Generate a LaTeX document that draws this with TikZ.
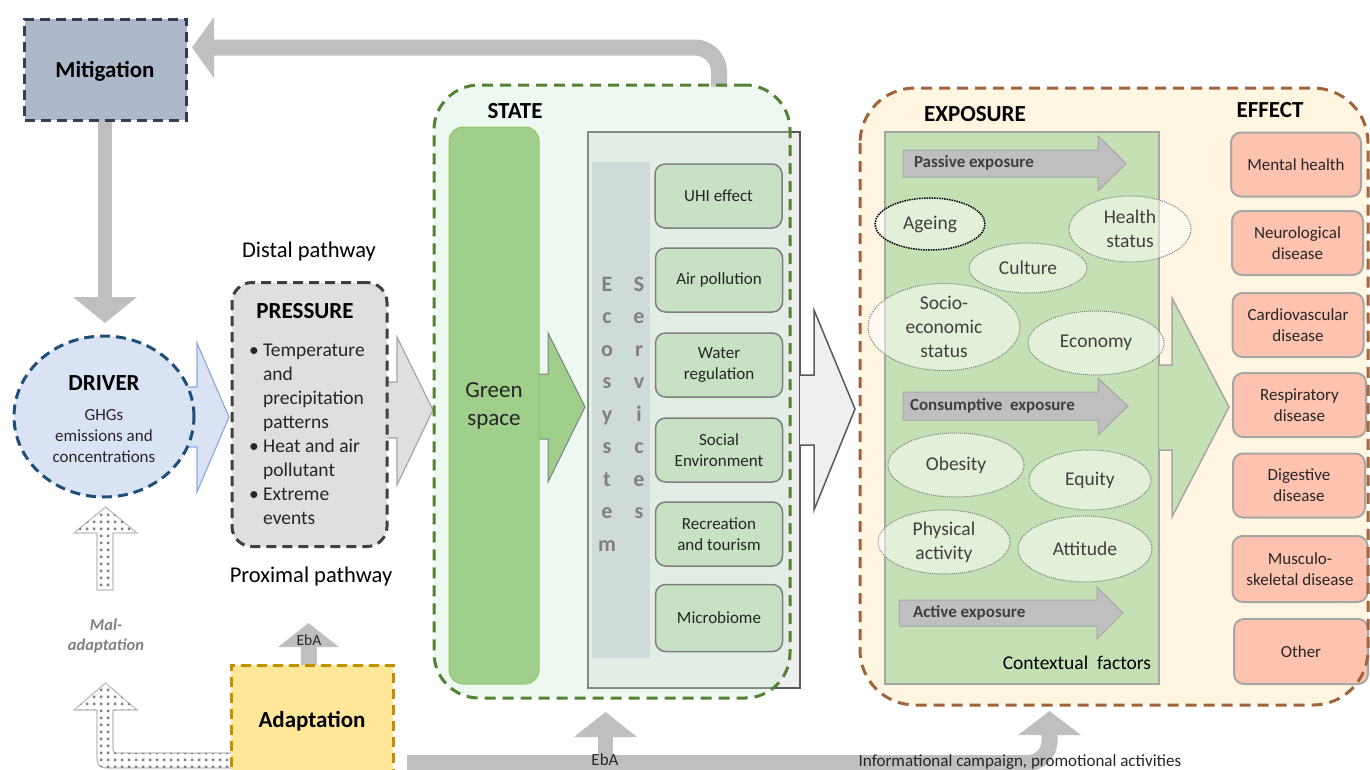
\documentclass[tikz,border=0pt]{standalone}
\usepackage{fontspec}
\setmainfont{Carlito}
\usetikzlibrary{shapes.geometric,patterns}
\pgfdeclarepatternformonly{bigdots}{\pgfpointorigin}{\pgfpoint{7pt}{7pt}}{\pgfpoint{7pt}{7pt}}%
  {\pgfpathrectangle{\pgfpoint{2pt}{2pt}}{\pgfpoint{3pt}{3pt}}\pgfusepath{fill}}
\definecolor{agray}{HTML}{BFBFBF}
\definecolor{mitfill}{HTML}{ADB9CA}
\definecolor{mitline}{HTML}{333F50}
\definecolor{drvfill}{HTML}{DAE3F3}
\definecolor{drvline}{HTML}{1F4E79}
\definecolor{drvarrow}{HTML}{8FAADC}
\definecolor{prsfill}{HTML}{DFDFDF}
\definecolor{prsline}{HTML}{404040}
\definecolor{adafill}{HTML}{FFE699}
\definecolor{adaline}{HTML}{BF9000}
\definecolor{stfill}{HTML}{CBEBD7}
\definecolor{stline}{HTML}{548235}
\definecolor{gsfill}{HTML}{9FCF8A}
\definecolor{gsline}{HTML}{92C46A}
\definecolor{ecofill}{HTML}{EFEFEF}
\definecolor{ecoline}{HTML}{595959}
\definecolor{ecostrip}{HTML}{CFDBD8}
\definecolor{svfill}{HTML}{C8E0C4}
\definecolor{svline}{HTML}{7F7F7F}
\definecolor{expfill}{HTML}{FFF5E0}
\definecolor{expline}{HTML}{A0643C}
\definecolor{ctxfill}{HTML}{C5E0B4}
\definecolor{ctxline}{HTML}{A6A6A6}
\definecolor{effill}{HTML}{FDC3AE}
\definecolor{txtdark}{HTML}{262626}
\definecolor{txtgray}{HTML}{404040}
\newcommand\fsz[2]{\fontsize{#1}{#2}\selectfont}
\tikzset{
  title/.style={font=\fsz{23}{27}\bfseries},
  svbox/.style={draw=svline, line width=1.5pt, fill=svfill, rounded corners=10pt,
    minimum width=127pt, minimum height=64pt, font=\fsz{17}{21}, text=txtdark},
  efbox/.style={draw=ctxline, line width=2pt, fill=effill, rounded corners=10pt,
    minimum width=131pt, minimum height=64pt, font=\fsz{17}{21}, text=txtdark},
  ctxell/.style={ellipse, draw=svline, densely dotted, line width=1pt, fill=white, fill opacity=0.5,
    text opacity=1, font=\fsz{19.5}{24}, text=txtgray},
  exparrow/.style={fill=agray, draw=ctxline, line width=1pt},
  explabel/.style={anchor=west, font=\fsz{17}{18}\bfseries, text=txtgray},
  dotarrow/.style={fill=white, draw=agray, line width=1.2pt},
  dotfill/.style={pattern=bigdots, pattern color=gray},
}
\begin{document}
\begin{tikzpicture}[x=1pt,y=-1pt, every node/.style={inner sep=0pt, outer sep=0pt, align=center}]
\useasboundingbox (0,0) rectangle (1370,769);

% ---- top feedback arrow (state -> mitigation)
\draw[agray, line width=16pt, rounded corners=24pt] (719,87) |- (212,47.5);
\fill[agray] (214,17) -- (192,47.5) -- (214,78) -- cycle;

% ---- mitigation -> driver
\draw[agray, line width=14pt] (105,118) -- (105,298);
\fill[agray] (73,297) -- (137,297) -- (105,323) -- cycle;

% ---- mitigation
\node[draw=mitline, fill=mitfill, line width=3pt, dash pattern=on 10pt off 6pt,
  minimum width=162pt, minimum height=101pt] (mit) at (105.5,69.5) {};
\node[font=\fsz{23}{27}\bfseries] (mitt) at (105,71.5) {Mitigation};

% ---- driver -> pressure arrow
\fill[drvfill] (180,387) -- (197,387) -- (197,343) -- (229,417) -- (197,492) -- (197,447) -- (180,447) -- cycle;
\draw[drvarrow, line width=1.2pt] (180,387) -- (197,387) -- (197,343) -- (229,417) -- (197,492) -- (197,447) -- (180,447);

% ---- driver
\node[ellipse, draw=drvline, fill=drvfill, line width=3pt, dash pattern=on 10pt off 6pt,
  minimum width=180pt, minimum height=161pt] (drv) at (104,416.5) {};
\node[title] (drvt) at (104,383) {DRIVER};
\node[font=\fsz{17}{21}, text=txtdark] (drvb) at (104,436) {GHGs\\emissions and\\concentrations};

% ---- pressure -> state arrow
\fill[prsfill] (378,382) -- (397,382) -- (397,337) -- (433,410) -- (397,485) -- (397,438) -- (378,438) -- cycle;
\draw[ctxline, line width=1.2pt] (378,382) -- (397,382) -- (397,337) -- (433,410) -- (397,485) -- (397,438) -- (378,438);

% ---- pressure
\node[draw=prsline, fill=prsfill, line width=3pt, dash pattern=on 10pt off 6pt, rounded corners=20pt,
  minimum width=155pt, minimum height=264pt] (prs) at (309.5,414.5) {};
\node[title] (prst) at (305,311) {PRESSURE};
\node[anchor=north west, align=left, font=\fsz{19.5}{24}, text=txtdark] (prsb) at (249,344)
  {\textbullet\ Temperature\\\hphantom{\textbullet\ }and\\\hphantom{\textbullet\ }precipitation\\\hphantom{\textbullet\ }patterns\\
   \textbullet\ Heat and air\\\hphantom{\textbullet\ }pollutant\\\textbullet\ Extreme\\\hphantom{\textbullet\ }events};
\node[font=\fsz{22.5}{26}, text=black] (distal) at (309,251) {Distal pathway};
\node[font=\fsz{22.5}{26}, text=black] (proximal) at (311,576) {Proximal pathway};

% ---- maladaptation arrows
\def\upmal{(97,590) -- (97,533) -- (74,533) -- (105.5,507) -- (137,533) -- (113,533) -- (113,590) -- cycle}
\path[dotarrow] \upmal;
\path[dotfill] \upmal;
\def\lowmal{(233,768) -- (115,768) .. controls (97,768) .. (97,750) -- (97,710) -- (74,710) -- (105.5,683) -- (137,710) -- (113,710) -- (113,746) .. controls (113,753) .. (120,753) -- (233,753) -- cycle}
\path[dotarrow] \lowmal;
\path[dotfill] \lowmal;
\node[font=\fsz{16.5}{20}\bfseries\itshape, text=gray] (mal) at (106,636) {Mal-\\adaptation};

% ---- EbA arrow adaptation -> pressure
\draw[agray, line width=16pt] (308.5,667) -- (308.5,645);
\fill[agray] (278,647) -- (339,647) -- (308.5,623) -- cycle;
\node[font=\fsz{15.5}{16}, text=txtdark] (eba1) at (309,640) {EbA};

% ---- adaptation
\node[draw=adaline, fill=adafill, line width=3pt, dash pattern=on 10pt off 6pt,
  minimum width=162pt, minimum height=112pt, font=\fsz{23}{27}\bfseries] (ada) at (312,721) {Adaptation};

% ---- bottom bar and arrows up
\draw[agray, line width=16pt, rounded corners=22pt] (407,763) -| (1049.5,733);
\fill[agray] (1018,735) -- (1081,735) -- (1049.5,711) -- cycle;
\draw[agray, line width=15pt] (605.5,763) -- (605.5,735);
\fill[agray] (574,737) -- (637,737) -- (605.5,712) -- cycle;
\node[font=\fsz{17}{18}, text=txtdark] (eba2) at (605,760) {EbA};
\node[font=\fsz{17}{18}, text=txtdark] (info) at (1020,762) {Informational campaign, promotional activities};

% ---- STATE
\node[draw=ecoline, fill=ecofill, line width=2pt, minimum width=212pt, minimum height=556pt] (eco) at (694,410) {};
\node[draw=stline, fill=stfill, fill opacity=0.35, draw opacity=1, line width=3pt, dash pattern=on 11pt off 7pt,
  rounded corners=45pt, minimum width=356pt, minimum height=613pt] (state) at (612,391.5) {};
\fill[ecostrip] (592,162) rectangle (650,658);
\node[font=\fsz{22}{32.5}\bfseries, text=gray] (ecoE) at (607,414) {E\\c\\o\\s\\y\\s\\t\\e\\m};
\node[font=\fsz{22}{32.5}\bfseries, text=gray] (ecoS) at (639,398) {S\\e\\r\\v\\i\\c\\e\\s};
\node[title] (stt) at (515,111) {STATE};

% green arrow
\fill[gsfill] (530,374) -- (548,374) -- (548,333) -- (585,407) -- (548,482) -- (548,439) -- (530,439) -- cycle;
\draw[svline, line width=1pt] (530,374) -- (548,374) -- (548,333) -- (585,407) -- (548,482) -- (548,439) -- (530,439);
\node[draw=gsline, fill=gsfill, line width=1pt, rounded corners=14pt,
  minimum width=90pt, minimum height=557pt] (gs) at (494,405.5) {};
\node[font=\fsz{23}{28}, text=txtdark] (gst) at (494,406) {Green\\space};

\node[svbox] (s1) at (718.5,196) {UHI effect};
\node[svbox] (s2) at (719,280) {Air pollution};
\node[svbox] (s3) at (719,365) {Water\\regulation};
\node[svbox] (s4) at (719,450) {Social\\Environment};
\node[svbox] (s5) at (719,534) {Recreation\\and tourism};
\node[svbox, minimum height=67pt] (s6) at (719,618) {Microbiome};

% ---- state -> exposure
\fill[ecofill] (800,375) -- (814,375) -- (814,310) -- (855,409) -- (814,510) -- (814,445) -- (800,445) -- cycle;
\draw[ecoline, line width=1.5pt] (800,375) -- (814,375) -- (814,310) -- (855,409) -- (814,510) -- (814,445) -- (800,445);

% ---- EXPOSURE / EFFECT
\fill[expfill, rounded corners=55pt] (860,88) rectangle (1368,705);
\node[title] (expt) at (975,114) {EXPOSURE};
\node[title] (efft) at (1270,110) {EFFECT};
\node[draw=ctxline, fill=ctxfill, line width=1.5pt, minimum width=274pt, minimum height=552pt] (ctx) at (1022,408) {};
\node[anchor=south east, font=\fsz{19.5}{22}, text=black] (ctxt) at (1151,670) {Contextual\ \ factors};

\path[exparrow] (903,150) -- (1098,150) -- (1098,136) -- (1126,163.5) -- (1098,191) -- (1098,177) -- (903,177) -- cycle;
\node[explabel] (pas) at (914,163) {Passive exposure};
\path[exparrow] (903,392) -- (1098,392) -- (1098,378) -- (1128,406) -- (1098,435) -- (1098,420) -- (903,420) -- cycle;
\node[explabel] (con) at (910,406) {Consumptive\ \ exposure};
\path[exparrow] (899,600) -- (1097,600) -- (1097,587) -- (1123,613) -- (1097,639) -- (1097,626) -- (899,626) -- cycle;
\node[explabel] (act) at (913,613) {Active exposure};

\node[ctxell, draw=black, line width=1.5pt, minimum width=110pt, minimum height=52pt] (e1) at (930,224) {Ageing};
\node[ctxell, minimum width=122pt, minimum height=66pt] (e2) at (1130,229) {Health\\status};
\node[ctxell, minimum width=118pt, minimum height=50pt] (e3) at (1028,268) {Culture};
\node[ctxell, minimum width=152pt, minimum height=84pt] (e4) at (944,327) {Socio-\\economic\\status};
\node[ctxell, minimum width=136pt, minimum height=64pt] (e5) at (1096,343) {Economy};
\node[ctxell, minimum width=136pt, minimum height=64pt] (e6) at (956,465) {Obesity};
\node[ctxell, minimum width=122pt, minimum height=60pt] (e7) at (1090,480) {Equity};
\node[ctxell, minimum width=132pt, minimum height=64pt] (e8) at (944,542) {Physical\\activity};
\node[ctxell, minimum width=134pt, minimum height=66pt] (e9) at (1085,549) {Attitude};

% big green arrow to effects
\fill[ctxfill] (1159,365) -- (1172,365) -- (1172,298) -- (1229,407) -- (1172,517) -- (1172,450) -- (1159,450) -- cycle;
\draw[ctxline, line width=1.5pt] (1159,365) -- (1172,365) -- (1172,298) -- (1229,407) -- (1172,517) -- (1172,450) -- (1159,450);

\node[efbox, minimum width=130pt] (f1) at (1296,164.5) {Mental health};
\node[efbox] (f2) at (1297.5,243) {Neurological\\disease};
\node[efbox] (f3) at (1298,325) {Cardiovascular\\disease};
\node[efbox, minimum width=133pt] (f4) at (1299.5,405) {Respiratory\\disease};
\node[efbox, minimum width=132pt] (f5) at (1299,485.5) {Digestive\\disease};
\node[efbox, minimum width=135pt, minimum height=66pt] (f6) at (1300,569) {Musculo-\\skeletal disease};
\node[efbox, minimum width=134pt, minimum height=65pt] (f7) at (1301,651.5) {Other};

\draw[expline, line width=3pt, dash pattern=on 11pt off 7pt, rounded corners=55pt] (860,88) rectangle (1368,705);
\end{tikzpicture}
\end{document}
